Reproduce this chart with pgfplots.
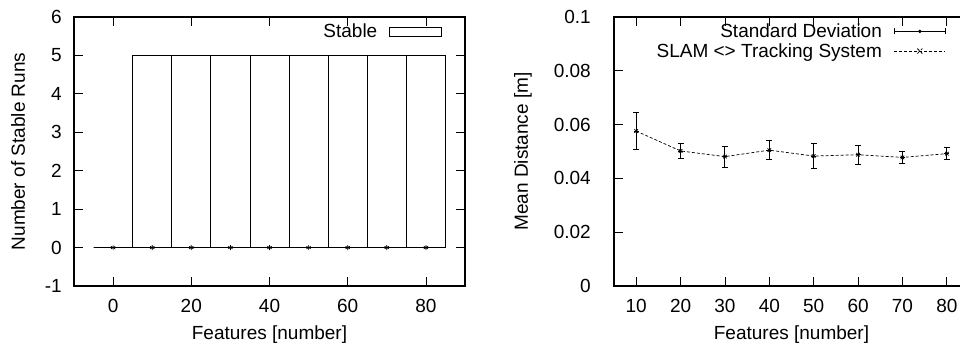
\documentclass[border=0pt]{standalone}
\usepackage{fontspec}
\setmainfont{Liberation Sans}
\usepackage{pgfplots}
\pgfplotsset{compat=1.18}
\begin{document}
\begin{tikzpicture}[font=\fontsize{19pt}{22pt}\selectfont]
\useasboundingbox (0pt,0pt) rectangle (960pt,347pt);
\pgfplotsset{
  gp/.style={
    scale only axis,
    /pgf/number format/assume math mode=true,
    axis line style={line width=1.3pt,black},
    every tick/.style={line width=0.8pt,black},
    major tick length=9pt,
    tick align=inside,
    xtick pos=both, ytick pos=both,
    tick label style={inner sep=0pt},
    xticklabel style={anchor=north,yshift=-13pt},
    yticklabel style={anchor=east,xshift=-12pt},
    legend plot pos=right,
    legend cell align=right,
    legend style={draw=none,fill=none,inner sep=0pt,column sep=12pt,row sep=4.5pt,
      nodes={inner sep=0pt}},
  }
}
% ---------------- left panel ----------------
\begin{axis}[gp,
  at={(74pt,61pt)}, anchor=south west,
  width=391pt, height=269pt,
  xmin=-10, xmax=90, ymin=-1, ymax=6,
  xtick={0,20,40,60,80},
  ytick={-1,0,1,2,3,4,5,6},
  yticklabels={-1,0,1,2,3,4,5,6},
  xlabel={Features [number]},
  ylabel={Number of Stable Runs},
  every axis x label/.style={at={(axis description cs:0.5,-0.2007)},anchor=base},
  every axis y label/.style={at={(axis description cs:-0.143,0.5)},anchor=center,rotate=90},
  legend style={at={(axis description cs:1,1)},anchor=east,xshift=-23pt,yshift=-14.7pt},
]
\addplot[ybar, bar width=10, bar shift=0pt, fill=white, draw=black, line width=0.8pt,
  legend image code/.code={\draw[line width=0.8pt,fill=white] (0pt,-4.6pt) rectangle (51.7pt,4.6pt);}]
  coordinates {(0,0) (10,5) (20,5) (30,5) (40,5) (50,5) (60,5) (70,5) (80,5)};
\addlegendentry{Stable}
\addplot[only marks, mark=asterisk, mark size=2.5pt, mark options={line width=0.7pt}, forget plot]
  coordinates {(0,0) (10,0) (20,0) (30,0) (40,0) (50,0) (60,0) (70,0) (80,0)};
\end{axis}
% ---------------- right panel ----------------
\begin{axis}[gp,
  at={(614pt,61pt)}, anchor=south west,
  width=355pt, height=269pt,
  xmin=5, xmax=85, ymin=0, ymax=0.1,
  xtick={10,20,30,40,50,60,70,80},
  ytick={0,0.02,0.04,0.06,0.08,0.1},
  yticklabels={0,0.02,0.04,0.06,0.08,0.1},
  yticklabel style={xshift=-11pt},
  xlabel={Features [number]},
  ylabel={Mean Distance [m]},
  every axis x label/.style={at={(axis description cs:0.5,-0.2007)},anchor=base},
  every axis y label/.style={at={(axis description cs:-0.2563,0.5)},anchor=center,rotate=90},
  legend style={at={(axis description cs:1,1)},anchor=east,xshift=-23pt,yshift=-24.2pt},
]
\addplot[black, line width=0.9pt, only marks, mark=+, mark size=2.5pt,
  error bars/.cd, y dir=both, y explicit,
  error bar style={line width=0.9pt,black},
  error mark options={line width=0.9pt,mark size=3pt,rotate=90},
  /pgfplots/legend image code/.code={
    \draw[line width=0.9pt] (0pt,0pt)--(51pt,0pt);
    \draw[line width=0.9pt] (0pt,-3pt)--(0pt,3pt);
    \draw[line width=0.9pt] (51pt,-3pt)--(51pt,3pt);
    \fill (25.5pt,0pt) circle (1.2pt);}]
  table[x=x,y=y,y error=e] {
x y e
10 0.0576 0.0068
20 0.0502 0.0027
30 0.0481 0.0039
40 0.0505 0.0036
50 0.0483 0.0046
60 0.0488 0.0035
70 0.0478 0.0022
80 0.0492 0.0022
};
\addlegendentry{Standard Deviation}
\addplot[black, line width=0.7pt, dash pattern=on 3pt off 2pt, mark=x, mark size=2.5pt,
  mark options={solid,line width=0.8pt},
  legend image code/.code={
    \draw[line width=0.7pt,dash pattern=on 3pt off 2pt] (0pt,0pt)--(51pt,0pt);
    \draw[line width=0.8pt] (23pt,-2.5pt)--(28pt,2.5pt) (23pt,2.5pt)--(28pt,-2.5pt);}]
  table[x=x,y=y] {
x y
10 0.0576
20 0.0502
30 0.0481
40 0.0505
50 0.0483
60 0.0488
70 0.0478
80 0.0492
};
\addlegendentry{SLAM <> Tracking System}
\end{axis}
\end{tikzpicture}
\end{document}
